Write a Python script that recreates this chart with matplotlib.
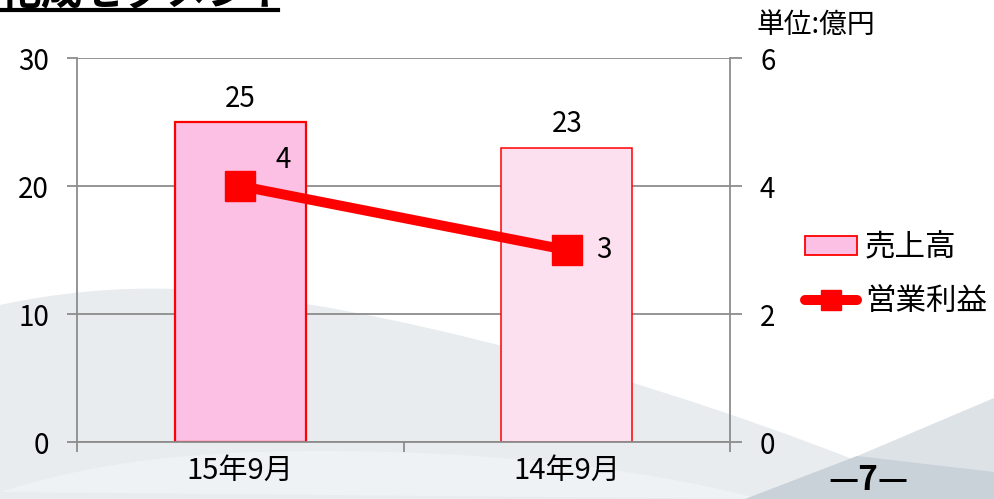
import matplotlib
matplotlib.use("Agg")
import matplotlib.pyplot as plt
from matplotlib.path import Path
from matplotlib.patches import PathPatch, Patch
from matplotlib.lines import Line2D

plt.rcParams['font.family'] = ['Noto Sans CJK JP', 'DejaVu Sans']

categories = ["15年9月", "14年9月"]
sales = [25, 23]
profit = [4, 3]
sales_label = "売上高"
profit_label = "営業利益"
unit_text = "単位:億円"
title_text = "化成セグメント"
page_text = "—7—"

W, H = 994, 499


def px(x, y):
    # pixel (top-left origin) -> figure fraction
    return (x / W, 1 - y / H)


def bg_shape(fig, verts, codes, color):
    path = Path([px(*v) for v in verts], codes)
    fig.patches.append(PathPatch(path, transform=fig.transFigure,
                                 facecolor=color, edgecolor='none', zorder=-10))


def main():
    fig = plt.figure(figsize=(W / 100, H / 100), dpi=100)
    fig.patch.set_facecolor('white')

    M, C, L, Z = Path.MOVETO, Path.CURVE4, Path.LINETO, Path.CLOSEPOLY
    # background waves of the slide
    bg_shape(fig, [(0, 305), (60, 292), (120, 287), (175, 289),
                   (330, 296), (600, 360), (860, 462),
                   (930, 499), (0, 499), (0, 305)],
             [M, C, C, C, C, C, C, L, L, Z], '#e8ecef')
    bg_shape(fig, [(0, 492), (100, 460), (200, 452), (300, 451),
                   (450, 450), (620, 462), (760, 499), (0, 499)],
             [M, C, C, C, C, C, C, Z], '#eff2f5')
    bg_shape(fig, [(855, 457), (994, 398), (994, 499), (855, 499), (855, 457)],
             [M, L, L, L, Z], '#dde2e7')
    bg_shape(fig, [(745, 499), (857, 456), (994, 472), (994, 499), (745, 499)],
             [M, L, L, L, Z], '#c9d1d9')

    left, right, top, bottom = 77, 730, 58, 442
    ax = fig.add_axes([left / W, 1 - bottom / H, (right - left) / W, (bottom - top) / H])
    ax.set_facecolor('none')
    ax2 = ax.twinx()
    ax2.set_facecolor('none')

    x = list(range(len(categories)))
    bar_faces = ['#fbc0e3', '#fde0f0']
    bar_lw = [1.6, 1.1]
    bars = ax.bar(x, sales, width=0.4, color=bar_faces, edgecolor='#ff0000', zorder=2)
    for b, lw in zip(bars, bar_lw):
        b.set_linewidth(lw)

    grid_c = '#8c8c8c'
    ax.set_xlim(-0.5, len(categories) - 0.5)
    ax.set_ylim(0, 30)
    ax.set_yticks([0, 10, 20, 30])
    ax.yaxis.grid(True, color=grid_c, lw=1.3, zorder=1)
    ax.set_axisbelow(True)
    ax.set_xticks([i - 0.5 for i in range(len(categories) + 1)])
    ax.set_xticklabels([])
    ax.set_xticks(x, minor=True)
    ax.set_xticklabels(categories, minor=True, fontsize=21)
    ax.tick_params(axis='x', which='major', length=7.2, width=1.3, color=grid_c)
    ax.tick_params(axis='x', which='minor', length=0, pad=10)
    ax.tick_params(axis='y', length=7.2, width=1.3, color=grid_c, labelsize=20, pad=13)
    for side in ['left', 'bottom']:
        ax.spines[side].set_color(grid_c)
        ax.spines[side].set_linewidth(1.3)
    ax.spines['top'].set_visible(False)
    ax.spines['right'].set_visible(False)

    for xi, v in zip(x, sales):
        ax.annotate(str(v), (xi, v), xytext=(0, 6), textcoords='offset points',
                    ha='center', va='bottom', fontsize=20)

    ax2.plot(x, profit, color='#ff0000', lw=7.2, marker='s', markersize=22,
             solid_capstyle='butt', zorder=3)
    ax2.set_ylim(0, 6)
    ax2.set_yticks([0, 2, 4, 6])
    ax2.tick_params(axis='y', length=8.6, width=1.3, color=grid_c, labelsize=20, pad=13)
    for side in ['left', 'top', 'bottom']:
        ax2.spines[side].set_visible(False)
    ax2.spines['right'].set_color(grid_c)
    ax2.spines['right'].set_linewidth(1.3)

    label_offsets = [(31, 19), (27, 0)]
    for xi, v, off in zip(x, profit, label_offsets):
        ax2.annotate(str(v), (xi, v), xytext=off, textcoords='offset points',
                     ha='center', va='center', fontsize=20)

    handles = [Patch(facecolor=bar_faces[0], edgecolor='#ff0000', lw=1.3),
               Line2D([], [], color='#ff0000', lw=7.2, marker='s', markersize=14,
                      solid_capstyle='round')]
    fig.legend(handles, [sales_label, profit_label], loc='center left',
               bbox_to_anchor=px(805, 275), frameon=False, fontsize=22,
               handlelength=1.7, handletextpad=0.26, labelspacing=0.75,
               handleheight=0.6, borderpad=0, borderaxespad=0)

    fig.text(*px(757, 25), unit_text, fontsize=20, ha='left', va='center')

    # slide title (cut off at the top of the crop) and its underline
    fig.text(*px(0, 5), title_text, fontsize=30, fontweight='bold',
             ha='left', va='baseline')
    fig.add_artist(Line2D([0, 278 / W], [1 - 10 / H] * 2, color='black', lw=3,
                          transform=fig.transFigure))

    fig.text(*px(868, 497), page_text, fontsize=24, fontweight='bold',
             ha='center', va='bottom')

    fig.savefig('out.png', dpi=100)


if __name__ == '__main__':
    main()
